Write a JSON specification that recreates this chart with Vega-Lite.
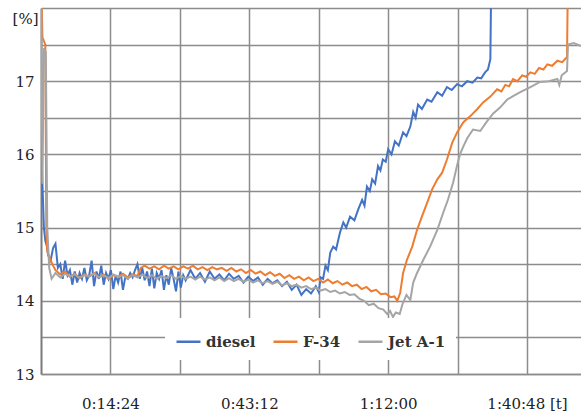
{
"$schema": "https://vega.github.io/schema/vega-lite/v6.json",
"width": 540, "height": 366,
"autosize": {"type": "none"},
"padding": {"left": 41, "top": 8, "right": 0, "bottom": 45},
"background": "white",
"config": {"view": {"stroke": null}, "font": "DejaVu Serif"},
"datasets": {
"diesel": [[0,16.3],[0.3,15.6],[0.6,15.0],[0.9,14.82],[1.2,14.75],[1.5,14.62],[2.0,14.55],[2.5,14.72],[3.0,14.78],[3.5,14.45],[4.0,14.5],[4.5,14.3],[5.0,14.55],[5.5,14.35],[6.0,14.42],[6.5,14.22],[7.0,14.4],[7.5,14.25],[8.0,14.38],[8.5,14.3],[9.0,14.45],[9.5,14.28],[10.0,14.35],[10.5,14.55],[11.0,14.2],[11.5,14.4],[12.0,14.3],[12.5,14.48],[13.0,14.22],[13.5,14.38],[14.0,14.3],[14.5,14.42],[15.0,14.16],[15.5,14.35],[16.0,14.25],[16.5,14.4],[17.0,14.15],[17.5,14.33],[18.0,14.3],[18.5,14.38],[19.0,14.32],[19.5,14.42],[20.0,14.5],[20.5,14.3],[21.0,14.45],[21.5,14.28],[22.0,14.4],[22.5,14.2],[23.0,14.44],[23.5,14.17],[24.0,14.38],[24.5,14.3],[25.0,14.42],[25.5,14.15],[26.0,14.35],[26.5,14.22],[27.0,14.45],[27.5,14.3],[28.0,14.13],[28.5,14.4],[29.0,14.18],[29.5,14.35],[30.0,14.28],[31,14.42],[32,14.3],[33,14.38],[34,14.26],[35,14.4],[36,14.3],[37,14.36],[38,14.28],[39,14.37],[40,14.3],[41,14.34],[42,14.25],[43,14.33],[44,14.27],[45,14.32],[46,14.22],[47,14.3],[48,14.24],[49,14.28],[50,14.2],[51,14.26],[52,14.15],[53,14.22],[54,14.08],[55,14.16],[56,14.1],[57,14.2],[57.6,14.12],[58.0,14.32],[58.5,14.3],[59.0,14.48],[59.5,14.42],[60.0,14.66],[60.6,14.74],[61.2,14.7],[62.0,14.93],[62.7,15.07],[63.3,15.0],[64.1,15.15],[65.0,15.1],[65.8,15.25],[66.6,15.38],[67.1,15.3],[67.6,15.56],[68.2,15.5],[68.7,15.66],[69.3,15.6],[69.9,15.84],[70.4,15.78],[70.9,15.93],[71.5,15.9],[72.0,16.07],[72.7,16.0],[73.4,16.18],[74.2,16.12],[75.1,16.3],[75.8,16.25],[76.6,16.38],[77.2,16.58],[77.7,16.5],[78.2,16.68],[79.0,16.62],[80.1,16.75],[81.0,16.72],[82.2,16.85],[83.2,16.8],[84.2,16.92],[85.2,16.88],[86.3,16.96],[87.3,16.93],[88.4,17.0],[89.5,16.98],[90.5,17.05],[91.3,17.04],[92.1,17.12],[92.7,17.16],[93.2,17.3],[93.4,18.5]],
"f34": [[0,18.5],[0.3,17.6],[0.9,17.5],[1.0,16.2],[1.1,15.0],[1.3,14.68],[2.0,14.55],[2.5,14.48],[3.0,14.42],[4,14.36],[5,14.4],[6,14.33],[7,14.37],[8,14.31],[9,14.36],[10,14.33],[11,14.38],[12,14.32],[13,14.36],[14,14.3],[15,14.35],[16,14.33],[17,14.37],[18,14.32],[19,14.36],[20,14.34],[20.7,14.45],[21.5,14.48],[22.5,14.44],[23.5,14.47],[24.5,14.43],[25.5,14.48],[26.5,14.44],[27.5,14.47],[28.5,14.43],[29.5,14.47],[30.5,14.44],[31.5,14.48],[32.5,14.43],[33.5,14.46],[34.5,14.42],[35.5,14.46],[36.5,14.43],[37.5,14.45],[38.5,14.41],[39.5,14.45],[40.5,14.4],[41.5,14.43],[42.5,14.38],[43.5,14.42],[44.5,14.37],[45.5,14.4],[46.5,14.35],[47.5,14.39],[48.5,14.34],[49.5,14.37],[50.5,14.31],[51.5,14.35],[52.5,14.3],[53.5,14.33],[54.5,14.28],[55.5,14.32],[56.5,14.27],[57.5,14.3],[58.5,14.25],[59.5,14.29],[60.5,14.24],[61.5,14.27],[62.5,14.22],[63.5,14.25],[64.5,14.2],[65.5,14.22],[66.5,14.16],[67.5,14.19],[68.5,14.13],[69.5,14.15],[70.5,14.09],[71.5,14.1],[72.5,14.05],[73.3,14.06],[73.9,14.0],[74.5,14.11],[75.1,14.38],[75.9,14.56],[77.0,14.74],[78.0,14.97],[79.0,15.15],[80.1,15.34],[81.1,15.52],[82.2,15.66],[83.2,15.75],[84.2,15.93],[85.3,16.16],[86.3,16.3],[87.6,16.44],[89.0,16.52],[90.5,16.62],[91.7,16.71],[93.2,16.79],[94.6,16.89],[95.5,16.86],[96.3,16.95],[97.1,16.93],[97.9,17.03],[98.8,17.0],[99.8,17.08],[100.6,17.06],[101.5,17.12],[102.4,17.1],[103.3,17.18],[104.2,17.16],[105.0,17.23],[106.0,17.21],[107.1,17.28],[108.1,17.26],[109.1,17.33],[109.3,18.5]],
"jet": [[0,18.5],[0.3,15.6],[0.6,17.45],[1.0,17.4],[1.3,15.0],[1.7,14.45],[2.2,14.3],[3,14.38],[4,14.32],[5,14.37],[6,14.33],[7,14.36],[8,14.31],[9,14.35],[10,14.33],[11,14.37],[12,14.32],[13,14.35],[14,14.31],[15,14.36],[16,14.32],[17,14.35],[18,14.3],[19,14.35],[20,14.32],[21,14.36],[22,14.31],[23,14.35],[24,14.3],[25,14.34],[26,14.31],[27,14.35],[28,14.3],[29,14.34],[30,14.3],[31,14.33],[32,14.29],[33,14.33],[34,14.29],[35,14.32],[36,14.28],[37,14.32],[38,14.27],[39,14.31],[40,14.27],[41,14.3],[42,14.26],[43,14.29],[44,14.25],[45,14.28],[46,14.24],[47,14.27],[48,14.23],[49,14.26],[50,14.21],[51,14.24],[52,14.2],[53,14.22],[54,14.18],[55,14.2],[56,14.16],[57,14.18],[58,14.14],[59,14.16],[60,14.12],[61,14.14],[62,14.1],[63,14.12],[64,14.08],[65,14.09],[66,14.03],[67,14.0],[68,13.94],[69,13.96],[70,13.9],[71,13.88],[71.8,13.82],[72.4,13.86],[73.0,13.78],[73.6,13.84],[74.4,13.82],[75.0,13.96],[75.8,14.08],[76.6,14.01],[77.2,14.25],[78.0,14.38],[79.3,14.56],[80.7,14.74],[82.2,14.97],[83.4,15.2],[84.4,15.38],[85.5,15.62],[86.3,15.85],[86.9,16.0],[87.6,16.11],[88.4,16.22],[89.6,16.34],[91.1,16.32],[92.5,16.45],[93.8,16.56],[95.2,16.64],[96.7,16.75],[98.0,16.8],[99.4,16.85],[101.5,16.92],[103.5,16.99],[105.3,17.0],[107.1,17.03],[107.5,16.95],[108.0,17.08],[109.1,17.14],[109.3,17.5],[110.5,17.52],[112,17.48]]
},
"layer": [
{"data": {"name": "diesel"}, "mark": {"type": "line", "strokeWidth": 2, "clip": true},
 "encoding": {"x": {"field": "0", "type": "quantitative"}, "y": {"field": "1", "type": "quantitative"}, "color": {"datum": "diesel"}}},
{"data": {"name": "f34"}, "mark": {"type": "line", "strokeWidth": 2, "clip": true},
 "encoding": {"x": {"field": "0", "type": "quantitative"}, "y": {"field": "1", "type": "quantitative"}, "color": {"datum": "F-34"}}},
{"data": {"name": "jet"}, "mark": {"type": "line", "strokeWidth": 2, "clip": true},
 "encoding": {"x": {"field": "0", "type": "quantitative"}, "y": {"field": "1", "type": "quantitative"}, "color": {"datum": "Jet A-1"}}}
],
"resolve": {"scale": {"color": "shared"}},
"encoding": {
 "x": {"field": "0", "type": "quantitative",
  "scale": {"domain": [0, 112], "nice": false, "zero": false},
  "axis": {"title": null, "values": [14.4, 28.8, 43.2, 57.6, 72, 86.4, 100.8], "grid": true, "gridColor": "#8c8c8c", "gridWidth": 1.5, "ticks": false, "domainColor": "#8c8c8c", "domainWidth": 1.5, "labelPadding": 22, "labelFontSize": 15, "labelFont": "DejaVu Serif", "labelColor": "#222222", "labelOverlap": false, "labelBound": false, "labelFlush": false,
   "labelExpr": "datum.value == 14.4 ? '0:14:24' : datum.value == 43.2 ? '0:43:12' : datum.value == 72 ? '1:12:00' : datum.value == 100.8 ? '1:40:48 [t]' : ''"}},
 "y": {"field": "1", "type": "quantitative",
  "scale": {"domain": [13, 18], "nice": false, "zero": false},
  "axis": {"title": null, "values": [13, 13.5, 14, 14.5, 15, 15.5, 16, 16.5, 17, 17.5, 18], "grid": true, "gridColor": "#8c8c8c", "gridWidth": 1.5, "ticks": false, "domainColor": "#7a7a7a", "domainWidth": 2, "labelFontSize": 15, "labelFont": "DejaVu Serif", "labelColor": "#222222", "labelOverlap": false, "labelBound": false, "labelFlush": false,
   "labelPadding": {"condition": {"test": "datum.value == 18", "value": 3}, "value": 7},
   "labelOffset": {"condition": {"test": "datum.value == 18", "value": 3}, "value": 0},
   "labelBaseline": {"condition": {"test": "datum.value == 18", "value": "top"}, "value": "middle"},
   "labelExpr": "datum.value == 18 ? '[%]' : datum.value % 1 == 0 ? datum.value + '' : ''"}},
 "color": {"type": "nominal",
  "scale": {"domain": ["diesel", "F-34", "Jet A-1"], "range": ["#4472C4", "#ED7D31", "#A5A5A5"]},
  "legend": {"title": null, "orient": "none", "legendX": 124, "legendY": 310, "direction": "horizontal", "fillColor": "white", "padding": 10, "symbolType": "stroke", "symbolSize": 576, "symbolStrokeWidth": 2.5, "labelFontSize": 15, "labelFont": "DejaVu Serif", "labelFontWeight": "bold", "labelColor": "#333333", "columnPadding": 12, "labelOffset": 4}}
}
}
